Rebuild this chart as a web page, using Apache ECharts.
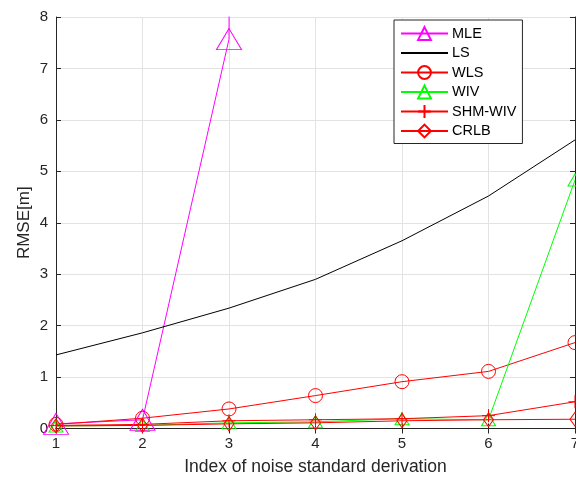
<!DOCTYPE html>
<html>
<head>
<meta charset="utf-8">
<script src="https://cdn.jsdelivr.net/npm/echarts@6/dist/echarts.min.js"></script>
<style>
  html, body { margin: 0; padding: 0; background: #fff; }
  #chart { width: 576px; height: 477px; }
</style>
</head>
<body>
<div id="chart"></div>
<script>
const xIndex = [1, 2, 3, 4, 5, 6, 7];
const mle = [0.09, 0.17, 7.57, 500, 800, 1000, 1200];
const ls = [1.43, 1.86, 2.34, 2.9, 3.65, 4.52, 5.61];
const wls = [0.08, 0.2, 0.38, 0.64, 0.91, 1.11, 1.67];
const wiv = [0.05, 0.06, 0.11, 0.13, 0.19, 0.17, 4.83];
const shmWiv = [0.06, 0.08, 0.15, 0.17, 0.19, 0.25, 0.52];
const crlb = [0.05, 0.06, 0.09, 0.11, 0.15, 0.17, 0.18];

const font = 'Liberation Sans, Arial, Helvetica, sans-serif';
const axisColor = '#262626';
const gridColor = '#e3e3e3';
const clear = 'rgba(255,255,255,0)';

const pairs = ys => xIndex.map((x, i) => [x, ys[i]]);

function lineSeries(name, ys, color, symbol, size) {
  const noMarker = symbol === 'none';
  return {
    name,
    type: 'line',
    data: pairs(ys),
    symbol: noMarker ? 'circle' : symbol,
    symbolSize: size,
    showSymbol: !noMarker,
    lineStyle: { color, width: 1 },
    // hollow markers like matlab; LS has no marker at all
    itemStyle: { color: clear, borderColor: noMarker ? clear : color, borderWidth: 1 },
    emphasis: { disabled: true },
    animation: false,
    clip: true,
    z: 3
  };
}

const chart = echarts.init(document.getElementById('chart'));

chart.setOption({
  backgroundColor: '#fff',
  textStyle: { fontFamily: font },
  grid: { left: 56, right: 1, top: 17, bottom: 48.5, containLabel: false, outerBoundsMode: 'none' },
  legend: {
    orient: 'vertical',
    left: 394,
    top: 20,
    itemWidth: 47,
    itemHeight: 16,
    itemGap: 4.5,
    padding: [6, 6, 5, 6],
    borderColor: axisColor,
    borderWidth: 1,
    backgroundColor: '#fff',
    textStyle: { fontSize: 14.5, color: '#000', fontFamily: font, padding: [0, 0, 0, -1] },
    data: ['MLE', 'LS', 'WLS', 'WIV', 'SHM-WIV', 'CRLB']
  },
  xAxis: [{
    type: 'value',
    min: 1, max: 7, interval: 1,
    name: 'Index of noise standard derivation',
    nameLocation: 'middle',
    nameGap: 30,
    nameTextStyle: { fontSize: 17.5, color: axisColor, fontFamily: font },
    axisLine: { lineStyle: { color: axisColor } },
    axisTick: { inside: true, length: 5, lineStyle: { color: axisColor } },
    axisLabel: { fontSize: 15, color: axisColor, margin: 8, fontFamily: font },
    splitLine: { show: true, lineStyle: { color: gridColor } }
  }, {
    type: 'value',
    position: 'top',
    min: 1, max: 7, interval: 1,
    axisLine: { lineStyle: { color: axisColor } },
    axisTick: { inside: true, length: 5, lineStyle: { color: axisColor } },
    axisLabel: { show: false },
    splitLine: { show: false }
  }],
  yAxis: [{
    type: 'value',
    min: 0, max: 8, interval: 1,
    name: 'RMSE[m]',
    nameLocation: 'middle',
    nameRotate: 90,
    nameGap: 23,
    nameMoveOverlap: false,
    nameTextStyle: { fontSize: 17, color: axisColor, fontFamily: font },
    axisLine: { show: true, lineStyle: { color: axisColor } },
    axisTick: { show: true, inside: true, length: 5, lineStyle: { color: axisColor } },
    axisLabel: { fontSize: 15, color: axisColor, margin: 8, fontFamily: font },
    splitLine: { show: true, lineStyle: { color: gridColor } }
  }, {
    type: 'value',
    position: 'right',
    min: 0, max: 8, interval: 1,
    axisLine: { show: true, lineStyle: { color: axisColor } },
    axisTick: { show: true, inside: true, length: 5, lineStyle: { color: axisColor } },
    axisLabel: { show: false },
    splitLine: { show: false }
  }],
  series: [
    lineSeries('MLE', mle, '#ff00ff', 'triangle', [25, 21]),
    lineSeries('LS', ls, '#000000', 'none', 0),
    lineSeries('WLS', wls, '#ff0000', 'circle', 14),
    lineSeries('WIV', wiv, '#00ff00', 'triangle', [14, 12]),
    lineSeries('SHM-WIV', shmWiv, '#ff0000', 'path://M0,-6L0,6M-6,0L6,0', 13),
    lineSeries('CRLB', crlb, '#ff0000', 'diamond', [10, 14])
  ]
});
</script>
</body>
</html>
